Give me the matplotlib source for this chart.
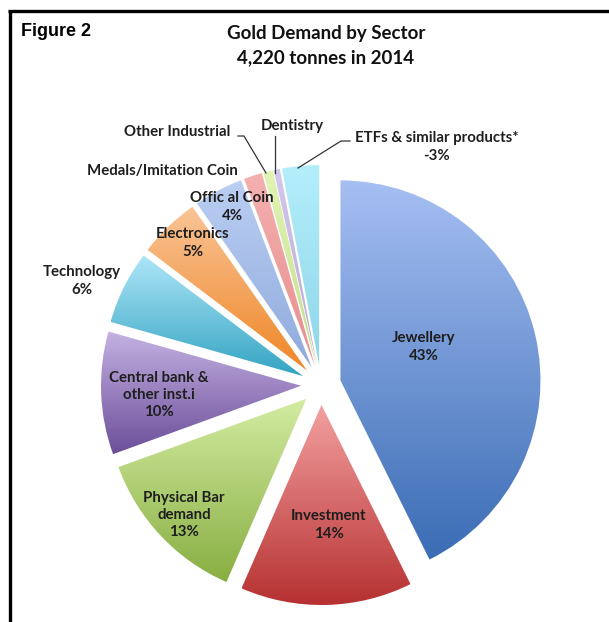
import numpy as np
import matplotlib
matplotlib.use("Agg")
import matplotlib.pyplot as plt
from matplotlib.colors import LinearSegmentedColormap
from matplotlib.lines import Line2D

# ---- data ----
sectors = ["Jewellery", "Investment", "Physical Bar demand", "Central bank & other inst.i",
           "Technology", "Electronics", "Offic al Coin", "Medals/Imitation Coin",
           "Other Industrial", "Dentistry", "ETFs & similar products*"]
shares = [43, 14, 13, 10, 6, 5, 4, 1.5, 0.8, 0.5, 3]
pct_labels = ["43%", "14%", "13%", "10%", "6%", "5%", "4%", "", "", "", "-3%"]
top_colors = ["#a6bff3", "#f3a0a0", "#d3eca2", "#c4b2e2", "#aee6f8", "#f9c496",
              "#bccff3", "#f5b0b0", "#e2f4b6", "#d4c8ec", "#b4eefb"]
bot_colors = ["#3a6cb4", "#b63030", "#88ae42", "#6c4e9a", "#33a4c2", "#ef8626",
              "#8eaadc", "#e68e8e", "#c4de8c", "#b6a6d6", "#8ed6ea"]

W, H = 609, 622
fig = plt.figure(figsize=(W / 100, H / 100), dpi=100)
fig.patch.set_facecolor("white")

def fx(x):
    return x / W

def fy(y):
    return 1 - y / H

# pie axes (center ~ (321,385) px, radius ~200 px)
R = 200
cx, cy = 321, 385
lim = 1.3
side = 2 * lim * R
ax = fig.add_axes([fx(cx - side / 2), (H - cy - side / 2) / H, side / W, side / H])
ax.set_xlim(-lim, lim)
ax.set_ylim(-lim, lim)
ax.set_aspect("equal")
ax.axis("off")

explode = [0.1] * len(shares)
wedges, _ = ax.pie(shares, startangle=90, counterclock=False, explode=explode,
                   radius=1.0, wedgeprops=dict(linewidth=0))

for w, ct, cb in zip(wedges, top_colors, bot_colors):
    w.set_facecolor("none")
    path = w.get_path()
    verts = w.get_transform().transform(path.vertices)
    verts = ax.transData.inverted().transform(verts)
    x0, x1 = verts[:, 0].min(), verts[:, 0].max()
    y0, y1 = verts[:, 1].min(), verts[:, 1].max()
    cmap = LinearSegmentedColormap.from_list("g", [cb, ct])
    grad = np.linspace(0, 1, 256).reshape(-1, 1)
    im = ax.imshow(grad, cmap=cmap, origin="lower", extent=[x0, x1, y0, y1],
                   aspect="auto", interpolation="bilinear", zorder=1)
    im.set_clip_path(w)
ax.set_xlim(-lim, lim)
ax.set_ylim(-lim, lim)

# ---- frame ----
fig.add_artist(Line2D([fx(9.5), fx(9.5)], [fy(10), 0], color="black", lw=2.4,
                      transform=fig.transFigure, solid_capstyle="butt"))
fig.add_artist(Line2D([fx(8.3), 1], [fy(10.5), fy(10.5)], color="black", lw=2.4,
                      transform=fig.transFigure, solid_capstyle="butt"))

# ---- titles ----
fig.text(fx(21), fy(32), "Figure 2", family="Liberation Sans", weight="bold",
         fontsize=13, ha="left", va="center", color="black")
fig.text(fx(326), fy(33), "Gold Demand by Sector", family="Lato", weight="bold",
         fontsize=13.5, ha="center", va="center", color="#111111")
fig.text(fx(326), fy(58), "4,220 tonnes in 2014", family="Lato", weight="bold",
         fontsize=13.5, ha="center", va="center", color="#111111")

# ---- labels ----
tc = "#1e1e1e"
lab_kw = dict(family="Lato", weight="bold", fontsize=10.8, ha="center", va="center",
              color=tc, linespacing=1.3)
label_text = {
    0: ("Jewellery\n" + pct_labels[0], 424, 347),
    1: ("Investment\n" + pct_labels[1], 329, 525),
    2: ("Physical Bar\ndemand\n" + pct_labels[2], 184, 515),
    3: ("Central bank &\nother inst.i\n" + pct_labels[3], 159, 395),
    4: (sectors[4] + "\n" + pct_labels[4], 82, 281),
    5: (sectors[5] + "\n" + pct_labels[5], 193, 243),
    6: (sectors[6] + "\n" + pct_labels[6], 232, 207),
    7: (sectors[7], 162, 171),
    8: (sectors[8], 177, 132),
    9: (sectors[9], 292, 126),
    10: (sectors[10] + "\n" + pct_labels[10], 437, 147),
}
for i, (t, x, y) in label_text.items():
    fig.text(fx(x), fy(y), t, **lab_kw)

# ---- leader lines ----
leaders = [
    [(238, 136), (244, 136), (266, 173)],
    [(275, 136), (275, 173)],
    [(350, 141), (341, 141), (298, 168)],
]
for pts in leaders:
    xs = [fx(p[0]) for p in pts]
    ys = [fy(p[1]) for p in pts]
    fig.add_artist(Line2D(xs, ys, color="#333333", lw=0.9, transform=fig.transFigure))

fig.savefig("out.png", dpi=100, facecolor="white")
